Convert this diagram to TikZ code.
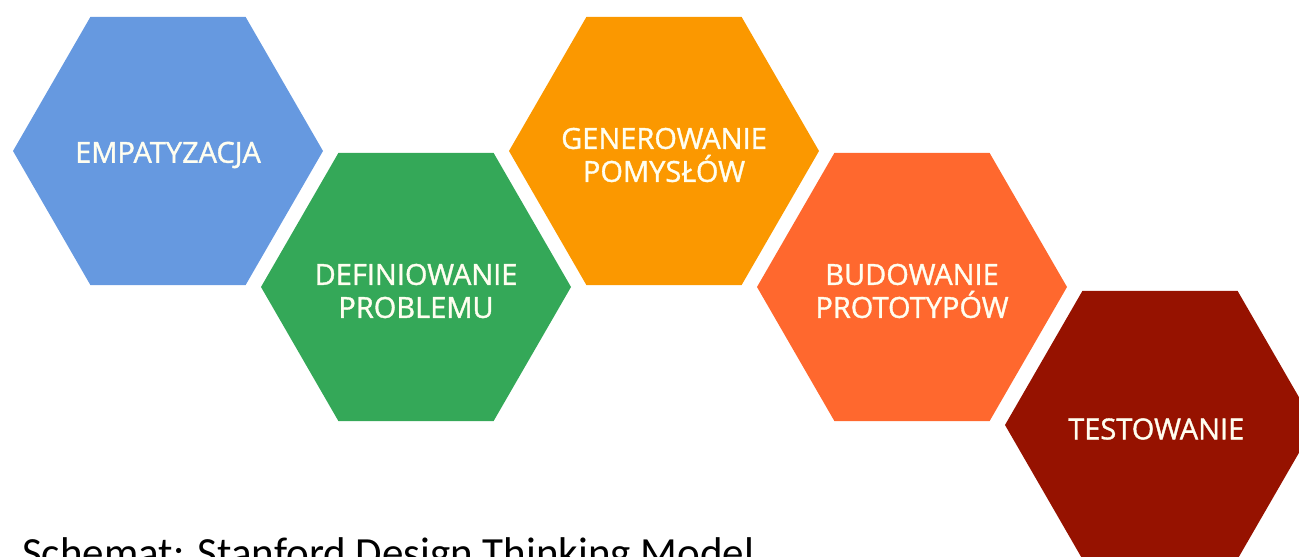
\documentclass[tikz,border=0pt]{standalone}
\usepackage{fontspec}
\usetikzlibrary{shapes.geometric}

\newfontfamily\plasterfont{Open Sans}[FakeBold=1.2]
\newfontfamily\podpisfont{Carlito}

\definecolor{empatkolor}{RGB}{102,153,224}
\definecolor{definkolor}{RGB}{52,168,88}
\definecolor{generkolor}{RGB}{251,152,0}
\definecolor{budowkolor}{RGB}{255,104,46}
\definecolor{testkolor}{RGB}{150,18,0}

\begin{document}
\begin{tikzpicture}[x=1pt,y=1pt,
    plaster/.style={regular polygon, regular polygon sides=6,
        minimum size=310pt, inner sep=0pt, outer sep=0pt},
    napis/.style={text=white!94!yellow, align=center, inner sep=0pt,
        yshift=-4pt, font=\plasterfont\fontsize{29}{33}\selectfont}]
            % Rozmiar obrazka
            \useasboundingbox (0,0) rectangle (1299,557);
            \clip (0,0) rectangle (1299,557);

            % Plastry: nazwa/kolor/x/y/tekst
            \foreach \nazwa/\kolor/\x/\y/\tekst in {
                    empat/empatkolor/168/406/{EMPATYZACJA},
                    defin/definkolor/416/270/{DEFINIOWANIE\\PROBLEMU},
                    gener/generkolor/664/406/{GENEROWANIE\\POMYSŁÓW},
                    budow/budowkolor/912/270/{BUDOWANIE\\PROTOTYPÓW},
                    test/testkolor/1160/132/{TESTOWANIE}
            } {
                \node[plaster, fill=\kolor,
                    label={[napis]center:\tekst}] (\nazwa) at (\x,\y) {};
            }

            % Podpis
            \node[anchor=base west, inner sep=0pt,
                font=\podpisfont\fontsize{43}{50}\selectfont]
                (podpis) at (22,-11) {Schemat: Stanford Design Thinking Model};
        \end{tikzpicture}
\end{document}
